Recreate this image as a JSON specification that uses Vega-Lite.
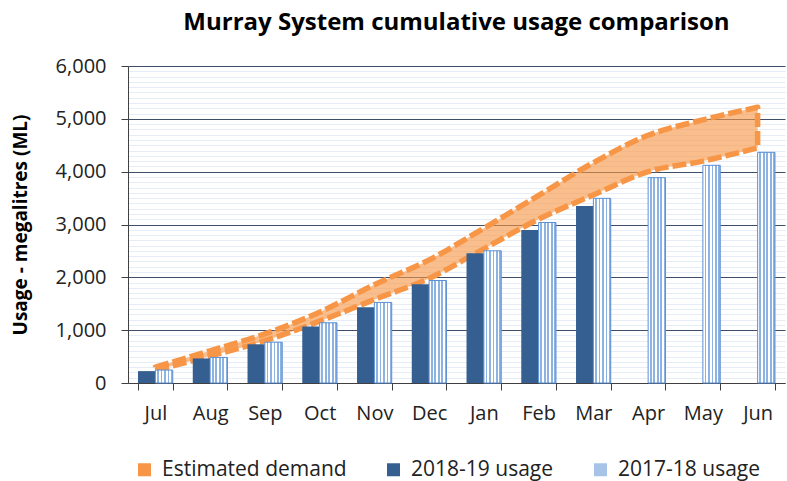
{
  "$schema": "https://vega.github.io/schema/vega-lite/v6.json",
  "width": 657,
  "height": 317,
  "autosize": "none",
  "padding": {"left": 128, "top": 66, "right": 2, "bottom": 98},
  "background": "white",
  "title": {
    "text": "Murray System cumulative usage comparison",
    "font": "Open Sans",
    "fontSize": 24,
    "fontWeight": "bold",
    "color": "#000000",
    "anchor": "middle",
    "offset": 21
  },
  "config": {
    "view": {"stroke": null},
    "font": "Open Sans",
    "axis": {"labelFont": "Open Sans", "labelColor": "#222222", "titleFont": "Open Sans"},
    "legend": {"labelFont": "Open Sans"}
  },
  "datasets": {
    "demand": [
      {"month": "Jul", "lo": 240, "hi": 300},
      {"month": "Aug", "lo": 510, "hi": 610},
      {"month": "Sep", "lo": 800, "hi": 930},
      {"month": "Oct", "lo": 1170, "hi": 1340},
      {"month": "Nov", "lo": 1580, "hi": 1860},
      {"month": "Dec", "lo": 1980, "hi": 2330},
      {"month": "Jan", "lo": 2540, "hi": 2930},
      {"month": "Feb", "lo": 3100, "hi": 3550},
      {"month": "Mar", "lo": 3560, "hi": 4170},
      {"month": "Apr", "lo": 4000, "hi": 4690},
      {"month": "May", "lo": 4200, "hi": 4980},
      {"month": "Jun", "lo": 4450, "hi": 5220}
    ],
    "usage1819": [
      {"month": "Jul", "series": "2018-19 usage", "value": 225},
      {"month": "Aug", "series": "2018-19 usage", "value": 465},
      {"month": "Sep", "series": "2018-19 usage", "value": 733},
      {"month": "Oct", "series": "2018-19 usage", "value": 1070},
      {"month": "Nov", "series": "2018-19 usage", "value": 1433},
      {"month": "Dec", "series": "2018-19 usage", "value": 1870},
      {"month": "Jan", "series": "2018-19 usage", "value": 2455},
      {"month": "Feb", "series": "2018-19 usage", "value": 2896},
      {"month": "Mar", "series": "2018-19 usage", "value": 3352}
    ],
    "usage1718": [
      {"month": "Jul", "series": "2017-18 usage", "value": 245},
      {"month": "Aug", "series": "2017-18 usage", "value": 484},
      {"month": "Sep", "series": "2017-18 usage", "value": 772},
      {"month": "Oct", "series": "2017-18 usage", "value": 1140},
      {"month": "Nov", "series": "2017-18 usage", "value": 1525},
      {"month": "Dec", "series": "2017-18 usage", "value": 1940},
      {"month": "Jan", "series": "2017-18 usage", "value": 2502},
      {"month": "Feb", "series": "2017-18 usage", "value": 3038},
      {"month": "Mar", "series": "2017-18 usage", "value": 3495},
      {"month": "Apr", "series": "2017-18 usage", "value": 3886},
      {"month": "May", "series": "2017-18 usage", "value": 4120},
      {"month": "Jun", "series": "2017-18 usage", "value": 4366}
    ]
  },
  "resolve": {"axis": {"y": "independent"}},
  "layer": [
    {
      "data": {"name": "demand"},
      "mark": {
        "type": "area",
        "interpolate": "monotone",
        "fill": "#f79646",
        "fillOpacity": 0.62,
        "stroke": "#f79646",
        "strokeWidth": 5.5,
        "strokeDash": [14, 4],
        "strokeJoin": "round"
      },
      "encoding": {
        "x": {
          "field": "month", "type": "nominal",
          "sort": ["Jul","Aug","Sep","Oct","Nov","Dec","Jan","Feb","Mar","Apr","May","Jun"],
          "scale": {"paddingInner": 0.366, "paddingOuter": 0.183},
          "axis": {
            "title": null, "labelAngle": 0, "labelFontSize": 20, "labelPadding": 13,
            "tickBand": "extent", "tickSize": 7, "tickColor": "#404040",
            "domainColor": "#404040", "grid": false
          }
        },
        "y": {
          "field": "lo", "type": "quantitative",
          "scale": {"domain": [0, 6000], "nice": false},
          "axis": {
            "orient": "right", "labels": false, "ticks": false, "domain": false, "title": null,
            "grid": true, "gridColor": "#e6edf7", "gridWidth": 1,
            "values": [100,200,300,400,500,600,700,800,900,1100,1200,1300,1400,1500,1600,1700,1800,1900,2100,2200,2300,2400,2500,2600,2700,2800,2900,3100,3200,3300,3400,3500,3600,3700,3800,3900,4100,4200,4300,4400,4500,4600,4700,4800,4900,5100,5200,5300,5400,5500,5600,5700,5800,5900]
          }
        },
        "y2": {"field": "hi"}
      }
    },
    {
      "data": {"name": "usage1819"},
      "mark": {"type": "bar"},
      "encoding": {
        "x": {"field": "month", "type": "nominal", "sort": ["Jul","Aug","Sep","Oct","Nov","Dec","Jan","Feb","Mar","Apr","May","Jun"]},
        "xOffset": {"field": "series", "type": "nominal", "scale": {"domain": ["2018-19 usage", "2017-18 usage"], "paddingInner": 0, "paddingOuter": 0}},
        "y": {
          "field": "value", "type": "quantitative",
          "axis": {
            "orient": "left", "title": "Usage - megalitres (ML)", "titleFontSize": 19, "titleFontWeight": "bold",
            "titleColor": "#000000", "titlePadding": 25,
            "values": [0,1000,2000,3000,4000,5000,6000], "format": ",d",
            "labelFontSize": 20, "labelPadding": 15, "tickSize": 7, "tickColor": "#404040",
            "domainColor": "#404040", "grid": true, "gridColor": "#3e4f6b", "gridWidth": 1
          }
        },
        "color": {
          "field": "series", "type": "nominal",
          "scale": {"domain": ["Estimated demand", "2018-19 usage", "2017-18 usage"], "range": ["#f79646", "#365f91", "#a7c3e8"]},
          "legend": {
            "title": null, "orient": "bottom", "direction": "horizontal", "offset": 30, "padding": 6,
            "labelFontSize": 21, "labelColor": "#222222", "labelLimit": 400, "symbolType": "square", "symbolSize": 169,
            "symbolStrokeWidth": 0, "columnPadding": 36, "labelOffset": 7
          }
        }
      }
    },
    {
      "data": {"name": "usage1718"},
      "mark": {
        "type": "bar",
        "stroke": "#5b8fd6",
        "strokeWidth": 1,
        "fill": {
          "gradient": "linear", "x1": 0, "x2": 1, "y1": 0, "y2": 0,
          "stops": [
            {"offset": 0, "color": "#ffffff"}, {"offset": 0.1, "color": "#ffffff"},
            {"offset": 0.1, "color": "#8db3e2"}, {"offset": 0.2, "color": "#8db3e2"},
            {"offset": 0.2, "color": "#ffffff"}, {"offset": 0.3, "color": "#ffffff"},
            {"offset": 0.3, "color": "#8db3e2"}, {"offset": 0.4, "color": "#8db3e2"},
            {"offset": 0.4, "color": "#ffffff"}, {"offset": 0.5, "color": "#ffffff"},
            {"offset": 0.5, "color": "#8db3e2"}, {"offset": 0.6, "color": "#8db3e2"},
            {"offset": 0.6, "color": "#ffffff"}, {"offset": 0.7, "color": "#ffffff"},
            {"offset": 0.7, "color": "#8db3e2"}, {"offset": 0.8, "color": "#8db3e2"},
            {"offset": 0.8, "color": "#ffffff"}, {"offset": 0.9, "color": "#ffffff"},
            {"offset": 0.9, "color": "#8db3e2"}, {"offset": 1, "color": "#8db3e2"}
          ]
        }
      },
      "encoding": {
        "x": {"field": "month", "type": "nominal", "sort": ["Jul","Aug","Sep","Oct","Nov","Dec","Jan","Feb","Mar","Apr","May","Jun"]},
        "xOffset": {"field": "series", "type": "nominal"},
        "y": {"field": "value", "type": "quantitative", "axis": null}
      }
    }
  ]
}
